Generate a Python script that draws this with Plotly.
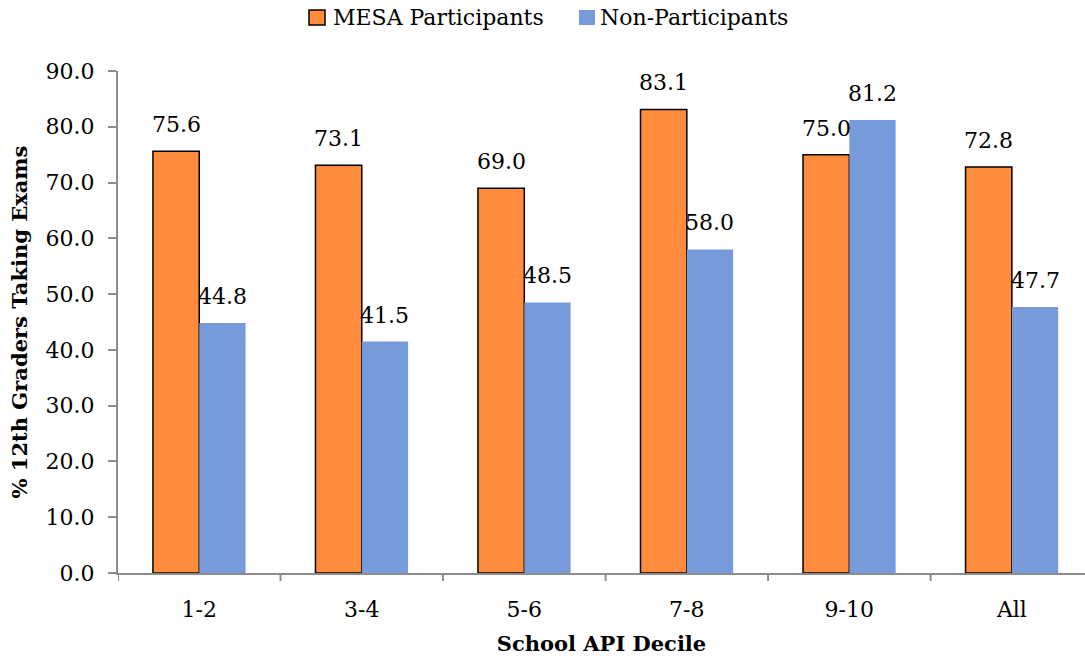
import plotly.graph_objects as go

categories = ["1-2", "3-4", "5-6", "7-8", "9-10", "All"]
mesa = [75.6, 73.1, 69.0, 83.1, 75.0, 72.8]
non_part = [44.8, 41.5, 48.5, 58.0, 81.2, 47.7]
y_ticks = [0, 10, 20, 30, 40, 50, 60, 70, 80, 90]
series_names = ["MESA Participants", "Non-Participants"]

ORANGE = "#FF8B3D"
BLUE = "#769ADA"
AXIS = "#8C8C8C"
FONT = "DejaVu Serif"

W, H = 1085, 660
ML, MR, MT, MB = 118, 0, 71, 87
PW, PH = W - ML - MR, H - MT - MB


def px_x(p):
    return (p - ML) / PW


def px_y(p):
    return (H - MB - p) / PH


fig = go.Figure()
fig.add_trace(go.Bar(
    name=series_names[0], x=categories, y=mesa,
    marker=dict(color=ORANGE, line=dict(color="black", width=1.5)),
    showlegend=False,
))
fig.add_trace(go.Bar(
    name=series_names[1], x=categories, y=non_part,
    marker=dict(color=BLUE, line=dict(width=0)),
    showlegend=False,
))

BARGAP = 0.43
bar_w_px = PW / 5.95 * (1 - BARGAP) / 2

# value labels above each bar
annotations = []
for vals, side in ((mesa, -1), (non_part, 1)):
    for cat, v in zip(categories, vals):
        annotations.append(dict(
            x=cat, y=v, xref="x", yref="y", text=f"{v:.1f}", showarrow=False,
            xanchor="center", yanchor="bottom", xshift=side * bar_w_px / 2, yshift=12,
            font=dict(size=22, family=FONT, color="black"),
        ))

# legend drawn as swatches and labels across the top
legend_items = [
    (series_names[0], ORANGE, "black", 309, 331),
    (series_names[1], BLUE, BLUE, 579, 598),
]
shapes = []
for name, fill, edge, sx, tx in legend_items:
    shapes.append(dict(
        type="rect", xref="paper", yref="paper",
        x0=px_x(sx), x1=px_x(sx + 16), y0=px_y(25), y1=px_y(10),
        fillcolor=fill, line=dict(color=edge, width=1.5 if edge == "black" else 0),
    ))
    annotations.append(dict(
        x=px_x(tx), y=px_y(17.5), xref="paper", yref="paper", text=name,
        showarrow=False, xanchor="left", yanchor="middle",
        font=dict(size=22, family=FONT, color="black"),
    ))

# category boundary ticks on the x axis
for i in range(len(categories)):
    shapes.append(dict(type="line", xref="x", yref="paper", x0=i - 0.5, x1=i - 0.5,
                       y0=0, y1=-8 / PH, line=dict(color=AXIS, width=2)))

fig.update_layout(
    width=W, height=H,
    margin=dict(l=ML, r=MR, t=MT, b=MB),
    paper_bgcolor="white", plot_bgcolor="white",
    barmode="group", bargap=BARGAP, bargroupgap=0,
    font=dict(family=FONT, size=22, color="black"),
    showlegend=False,
    annotations=annotations, shapes=shapes,
)
fig.update_xaxes(
    range=[-0.5, 5.45], showline=True, linecolor=AXIS, linewidth=2,
    ticks="", ticklabelstandoff=16,
    tickfont=dict(size=22, family=FONT),
    title=dict(text="<b>School API Decile</b>", font=dict(size=21, family=FONT), standoff=15),
    showgrid=False,
)
fig.update_yaxes(
    range=[0, 90], tickvals=y_ticks, ticktext=[f"{v:.1f}" for v in y_ticks],
    showline=True, linecolor=AXIS, linewidth=2,
    ticks="outside", tickcolor=AXIS, ticklen=8, tickwidth=2, ticklabelstandoff=9,
    tickfont=dict(size=22, family=FONT), showgrid=False, zeroline=False,
    title=dict(text="<b>% 12th Graders Taking Exams</b>", font=dict(size=21, family=FONT), standoff=12),
)

fig.write_html("out.html")
